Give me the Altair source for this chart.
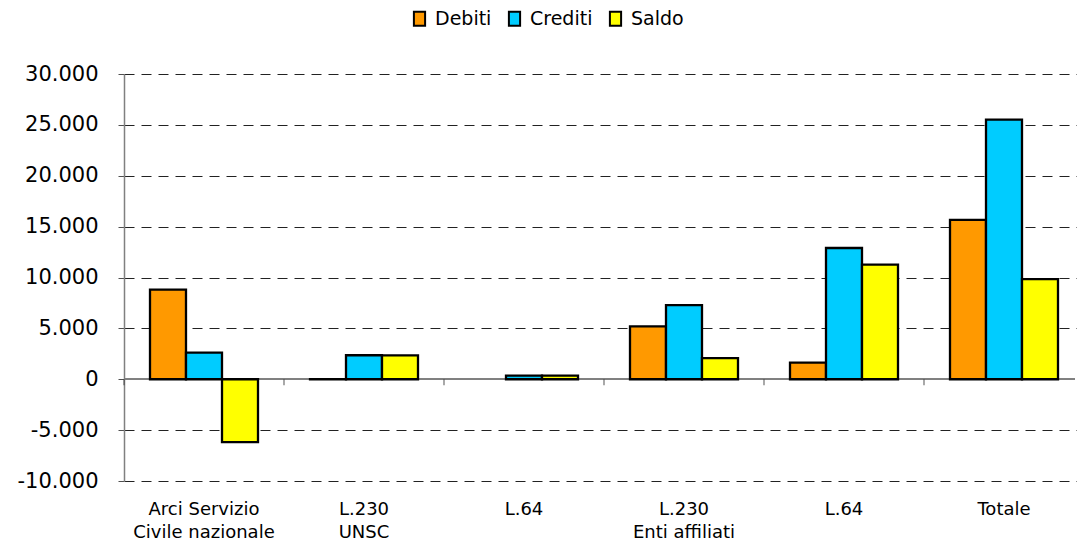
import altair as alt
import pandas as pd

categories = ["Arci Servizio\nCivile nazionale", "L.230\nUNSC", "L.64",
              "L.230\nEnti affiliati", "L.64 ", "Totale"]
series = ["Debiti", "Crediti", "Saldo"]
debiti = [8800, 20, None, 5200, 1640, 15660]
crediti = [2620, 2360, 350, 7280, 12900, 25510]
saldo = [-6180, 2340, 350, 2080, 11260, 9850]
colors = ["#FF9900", "#00CCFF", "#FFFF00"]
y_ticks = [-10000, -5000, 0, 5000, 10000, 15000, 20000, 25000, 30000]

rows = []
for i, c in enumerate(categories):
    for s, vals in zip(series, [debiti, crediti, saldo]):
        if vals[i] is not None:
            rows.append({"cat": c, "series": s, "value": vals[i]})
df = pd.DataFrame(rows)
cat_df = pd.DataFrame({"cat": categories})

W, H = 951, 407

yscale = alt.Scale(domain=[-10000, 30000], nice=False, zero=False)
xscale = alt.Scale(domain=categories, range=[0, 960],
                   paddingInner=0.325, paddingOuter=0.1625)
xscale_edges = alt.Scale(domain=categories, range=[0, 960],
                         paddingInner=0, paddingOuter=0)

zero_line = alt.Chart(cat_df).mark_rule(color="#808080", strokeWidth=1.5).encode(
    x=alt.value(0), x2=alt.value(W), y=alt.datum(0, scale=yscale),
)

edge_ticks = alt.Chart(cat_df).mark_tick(
    orient="vertical", size=6, thickness=1.2, color="#303030", yOffset=3
).encode(
    x=alt.X("cat:N", sort=categories, scale=xscale_edges, bandPosition=0, axis=None),
    y=alt.datum(0),
)

bars = alt.Chart(df).mark_bar(stroke="black", strokeWidth=2.3).encode(
    x=alt.X("cat:N", sort=categories, scale=xscale,
            axis=alt.Axis(title=None, labelAngle=0, ticks=False, domain=False,
                          labelExpr="split(datum.label, '\\n')",
                          labelFont="DejaVu Sans", labelFontSize=18,
                          labelLineHeight=23, labelColor="black",
                          labelPadding=19, labelBaseline="top", grid=False)),
    xOffset=alt.XOffset("series:N", sort=series,
                        scale=alt.Scale(domain=series, paddingInner=0, paddingOuter=0)),
    y=alt.Y("value:Q", scale=yscale,
            axis=alt.Axis(title=None, values=y_ticks,
                          labelExpr="replace(replace(format(datum.value, ','), ',', '.'), '\u2212', '-')",
                          labelFont="DejaVu Sans", labelFontSize=21,
                          labelColor="black", labelPadding=20,
                          tickSize=6, tickColor="#505050",
                          domainColor="#808080", domainWidth=1.5,
                          grid=True, gridDash=[10, 7], gridWidth=1,
                          gridColor={"condition": {"test": "datum.value === 0", "value": "transparent"},
                                     "value": "#222222"})),
    color=alt.Color("series:N", sort=series,
                    scale=alt.Scale(domain=series, range=colors),
                    legend=alt.Legend(title=None, orient="none", direction="horizontal",
                                      legendX=286, legendY=-65,
                                      symbolType="M-0.8,-1H0.8V1H-0.8Z",
                                      symbolSize=196, symbolStrokeColor="black",
                                      symbolStrokeWidth=2, symbolOpacity=1,
                                      labelFont="DejaVu Sans", labelFontSize=19,
                                      labelColor="black", labelOffset=6,
                                      columnPadding=12)),
)

chart = alt.layer(zero_line, edge_ticks, bars).resolve_scale(x="independent").properties(
    width=W, height=H,
    autosize=alt.AutoSizeParams(type="none"),
    padding={"left": 124, "top": 74, "right": 2, "bottom": 64},
).configure_view(stroke=None)

chart.save("out.html", embed_options={"renderer": "svg", "actions": False})
